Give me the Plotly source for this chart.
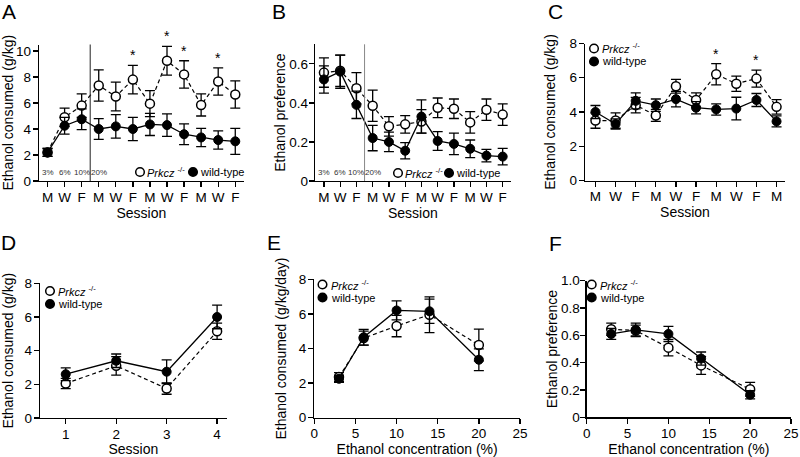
import plotly.graph_objects as go

FONT = "Liberation Sans, Arial, Helvetica, sans-serif"
W, H = 800, 457

# ---------------- data ----------------
# Panel A: ethanol consumed (g/kg), escalating concentration then 20%
sessions_A = ["M", "W", "F", "M", "W", "F", "M", "W", "F", "M", "W", "F"]
A_ko = [2.2, 4.9, 5.8, 7.35, 6.5, 7.8, 5.95, 9.25, 8.2, 5.85, 7.65, 6.65]
A_ko_err = [0.3, 0.7, 0.9, 1.2, 1.1, 1.1, 1.0, 1.1, 1.05, 0.85, 1.05, 1.05]
A_wt = [2.2, 4.25, 4.75, 4.0, 4.2, 4.0, 4.35, 4.3, 3.6, 3.35, 3.15, 3.05]
A_wt_err = [0.3, 0.65, 0.8, 0.8, 0.9, 0.9, 0.85, 0.87, 0.8, 0.7, 0.7, 1.0]
A_sig = [5, 7, 8, 10]

# Panel B: ethanol preference
B_ko = [0.555, 0.565, 0.475, 0.385, 0.28, 0.29, 0.305, 0.375, 0.37, 0.30, 0.365, 0.34]
B_ko_err = [0.075, 0.08, 0.08, 0.08, 0.05, 0.045, 0.06, 0.05, 0.05, 0.055, 0.055, 0.055]
B_wt = [0.52, 0.56, 0.39, 0.22, 0.20, 0.155, 0.33, 0.205, 0.19, 0.165, 0.13, 0.125]
B_wt_err = [0.07, 0.085, 0.07, 0.065, 0.05, 0.042, 0.085, 0.048, 0.055, 0.045, 0.032, 0.042]

conc_labels = ["3%", "6%", "10%", "20%"]

# Panel C
sessions_C = ["M", "W", "F", "M", "W", "F", "M", "W", "F", "M"]
C_ko = [3.5, 3.5, 4.4, 3.8, 5.5, 4.7, 6.2, 5.65, 5.95, 4.3]
C_ko_err = [0.45, 0.45, 0.45, 0.35, 0.4, 0.42, 0.62, 0.45, 0.5, 0.42]
C_wt = [4.0, 3.3, 4.65, 4.4, 4.75, 4.25, 4.15, 4.2, 4.7, 3.45]
C_wt_err = [0.38, 0.3, 0.47, 0.36, 0.45, 0.36, 0.33, 0.66, 0.38, 0.32]
C_sig = [6, 8]

# Panel D
sessions_D = [1, 2, 3, 4]
D_ko = [2.05, 3.1, 1.75, 5.15]
D_ko_err = [0.3, 0.55, 0.34, 0.48]
D_wt = [2.6, 3.4, 2.75, 6.0]
D_wt_err = [0.38, 0.4, 0.7, 0.7]

# Panels E, F: concentration series
conc = [3, 6, 10, 14, 20]
E_ko = [2.35, 4.6, 5.3, 5.95, 4.2]
E_ko_err = [0.25, 0.4, 0.62, 1.03, 0.92]
E_wt = [2.25, 4.65, 6.2, 6.15, 3.35]
E_wt_err = [0.2, 0.45, 0.55, 0.7, 0.63]

F_ko = [0.645, 0.635, 0.51, 0.38, 0.205]
F_ko_err = [0.045, 0.04, 0.06, 0.066, 0.05]
F_wt = [0.61, 0.64, 0.61, 0.43, 0.165]
F_wt_err = [0.04, 0.05, 0.055, 0.048, 0.03]

KO_NAME = "<i>Prkcz</i> <sup>-/-</sup>"
WT_NAME = "wild-type"

# ---------------- helpers ----------------
def px_x(p):
    return p / W

def px_y(p):
    return 1 - p / H

fig = go.Figure()

def add_pair(n, x, ko, koe, wt, wte):
    xa = "x" if n == 1 else f"x{n}"
    ya = "y" if n == 1 else f"y{n}"
    fig.add_trace(go.Scatter(
        x=x, y=ko, mode="lines+markers", name=KO_NAME, xaxis=xa, yaxis=ya,
        line=dict(color="black", width=1.2, dash="4px,3px"),
        marker=dict(symbol="circle", size=9, color="white",
                    line=dict(color="black", width=1.5)),
        error_y=dict(type="data", array=koe, visible=True, color="black",
                     thickness=1.3, width=5),
        showlegend=False))
    fig.add_trace(go.Scatter(
        x=x, y=wt, mode="lines+markers", name=WT_NAME, xaxis=xa, yaxis=ya,
        line=dict(color="black", width=1.3),
        marker=dict(symbol="circle", size=9, color="black",
                    line=dict(color="black", width=1)),
        error_y=dict(type="data", array=wte, visible=True, color="black",
                     thickness=1.3, width=5),
        showlegend=False))

idx_A = list(range(len(sessions_A)))
idx_C = list(range(len(sessions_C)))
add_pair(1, idx_A, A_ko, A_ko_err, A_wt, A_wt_err)
add_pair(2, idx_A, B_ko, B_ko_err, B_wt, B_wt_err)
add_pair(3, idx_C, C_ko, C_ko_err, C_wt, C_wt_err)
add_pair(4, sessions_D, D_ko, D_ko_err, D_wt, D_wt_err)
add_pair(5, conc, E_ko, E_ko_err, E_wt, E_wt_err)
add_pair(6, conc, F_ko, F_ko_err, F_wt, F_wt_err)

tickfont = dict(family=FONT, size=13.5, color="black")
titlefont = dict(family=FONT, size=14, color="black")
common = dict(showline=True, linecolor="black", linewidth=1.3, ticks="outside",
              ticklen=5, tickwidth=1.3, tickcolor="black", showgrid=False,
              zeroline=False, tickfont=tickfont, fixedrange=True, automargin=False)
xcommon = dict(common, ticklabelstandoff=-2)
ycommon = dict(common, ticklabelstandoff=-1)

def xdom(a, b):
    return [px_x(a), px_x(b)]

def ydom(bottom, top):
    return [px_y(bottom), px_y(top)]

layout_axes = {}
# Panel A
layout_axes["xaxis"] = dict(xcommon, domain=xdom(39, 243.8), range=[-0.5, 11.5], anchor="y",
                            tickvals=idx_A, ticktext=sessions_A,
                            title=dict(text="Session", font=titlefont, standoff=4))
layout_axes["yaxis"] = dict(ycommon, domain=ydom(181, 44.5), range=[0, 10.5], anchor="x",
                            tickvals=[0, 2, 4, 6, 8, 10],
                            title=dict(text="Ethanol consumed (g/kg)", font=titlefont, standoff=7))
# Panel B
layout_axes["xaxis2"] = dict(xcommon, domain=xdom(315, 510.8), range=[-0.55, 11.5], anchor="y2",
                             tickvals=idx_A, ticktext=sessions_A,
                             title=dict(text="Session", font=titlefont, standoff=4))
layout_axes["yaxis2"] = dict(common, ticklabelstandoff=-2, domain=ydom(181, 44.3), range=[0, 0.7],
                             anchor="x2",
                             tickvals=[0, 0.2, 0.4, 0.6], ticktext=["0", "0.2", "0.4", "0.6"],
                             title=dict(text="Ethanol preference", font=titlefont, standoff=0))
# Panel C
layout_axes["xaxis3"] = dict(xcommon, domain=xdom(585, 785), range=[-0.52, 9.42], anchor="y3",
                             tickvals=idx_C, ticktext=sessions_C,
                             title=dict(text="Session", font=titlefont, standoff=4))
layout_axes["yaxis3"] = dict(ycommon, domain=ydom(180.5, 43.5), range=[0, 8], anchor="x3",
                             tickvals=[0, 2, 4, 6, 8],
                             title=dict(text="Ethanol consumed (g/kg)", font=titlefont, standoff=10))
# Panel D
layout_axes["xaxis4"] = dict(xcommon, domain=xdom(40, 226.7), range=[0.49, 4.19], anchor="y4",
                             tickvals=sessions_D,
                             title=dict(text="Session", font=titlefont, standoff=4))
layout_axes["yaxis4"] = dict(ycommon, domain=ydom(418, 283.3), range=[0, 8], anchor="x4",
                             tickvals=[0, 2, 4, 6, 8],
                             title=dict(text="Ethanol consumed (g/kg)", font=titlefont, standoff=14))
# Panel E
layout_axes["xaxis5"] = dict(xcommon, domain=xdom(314.3, 520), range=[0, 25], anchor="y5",
                             tickvals=[0, 5, 10, 15, 20, 25],
                             title=dict(text="Ethanol concentration (%)", font=titlefont, standoff=4))
layout_axes["yaxis5"] = dict(ycommon, domain=ydom(417.7, 279.3), range=[0, 8], anchor="x5",
                             tickvals=[0, 2, 4, 6, 8],
                             title=dict(text="Ethanol consumed (g/kg/day)", font=titlefont, standoff=9))
# Panel F
layout_axes["xaxis6"] = dict(xcommon, domain=xdom(586.7, 791), range=[0, 25], anchor="y6",
                             tickvals=[0, 5, 10, 15, 20, 25],
                             title=dict(text="Ethanol concentration (%)", font=titlefont, standoff=4))
layout_axes["yaxis6"] = dict(common, ticklabelstandoff=-2, domain=ydom(417.3, 280.7), range=[0, 1.0],
                             anchor="x6",
                             tickvals=[0, 0.2, 0.4, 0.6, 0.8, 1.0],
                             ticktext=["0", "0.2", "0.4", "0.6", "0.8", "1.0"],
                             title=dict(text="Ethanol preference", font=titlefont, standoff=0))

annotations = []
shapes = []

# panel letters
for letter, (lx, ly) in zip("ABCDEF", [(8.5, 11.5), (279, 11.5), (555, 11.5),
                                        (8.5, 242.5), (274, 242.5), (555, 243.5)]):
    annotations.append(dict(text=letter, x=px_x(lx), y=px_y(ly), xref="paper", yref="paper",
                            xanchor="center", yanchor="middle", showarrow=False,
                            font=dict(family=FONT, size=21, color="black")))

# concentration-change divider and % labels (panels A, B)
for xa, ya, ylab, col in [("x", "y", 0.62, "#222222"), ("x2", "y2", 0.042, "#888888")]:
    shapes.append(dict(type="line", xref=xa, yref=f"{ya} domain", x0=2.5, x1=2.5, y0=0, y1=1,
                       line=dict(color=col, width=1)))
    for i, lab in enumerate(conc_labels):
        annotations.append(dict(text=lab, x=i, y=ylab, xref=xa, yref=ya, showarrow=False,
                                xanchor="center", yanchor="middle",
                                font=dict(family=FONT, size=8, color="#333333")))

# significance asterisks
for xa, ya, sig, ko, koe in [("x", "y", A_sig, A_ko, A_ko_err), ("x3", "y3", C_sig, C_ko, C_ko_err)]:
    for i in sig:
        annotations.append(dict(text="*", x=i, y=ko[i] + koe[i], xref=xa, yref=ya,
                                showarrow=False, xanchor="center", yanchor="bottom",
                                font=dict(family=FONT, size=14, color="#000000")))

# legends (symbol + label)
def legend_item(cx, cy, filled, label, tx):
    shapes.append(dict(type="circle", xref="paper", yref="paper",
                       xsizemode="pixel", ysizemode="pixel",
                       xanchor=px_x(cx), yanchor=px_y(cy), x0=-4.3, x1=4.3, y0=-4.3, y1=4.3,
                       fillcolor="black" if filled else "white",
                       line=dict(color="black", width=1.5)))
    annotations.append(dict(text=label, x=px_x(tx), y=px_y(cy), xref="paper", yref="paper",
                            showarrow=False, xanchor="left", yanchor="middle",
                            font=dict(family=FONT, size=11, color="black")))

# horizontal legends in A and B
legend_item(140, 172, False, KO_NAME, 145)
legend_item(193, 172, True, WT_NAME, 198)
legend_item(398, 173, False, KO_NAME, 403)
legend_item(449, 173, True, WT_NAME, 454)
# vertical legends in C-F
for cx, cy in [(594, 48.5), (50, 291), (322.5, 284.5), (591.7, 284.5)]:
    legend_item(cx, cy, False, KO_NAME, cx + 6)
    legend_item(cx, cy + 13, True, WT_NAME, cx + 6)

fig.update_layout(
    template="none",
    width=W, height=H, margin=dict(l=0, r=0, t=0, b=0, pad=0),
    paper_bgcolor="white", plot_bgcolor="white",
    showlegend=False, font=dict(family=FONT, color="black"),
    annotations=annotations, shapes=shapes,
    **layout_axes)

# remove the default 8px page margin so the figure sits at the window's top-left corner
fig.write_html("out.html", config={"displayModeBar": False, "staticPlot": True},
               post_script="document.body.style.margin='0px';document.body.style.overflow='hidden';")
